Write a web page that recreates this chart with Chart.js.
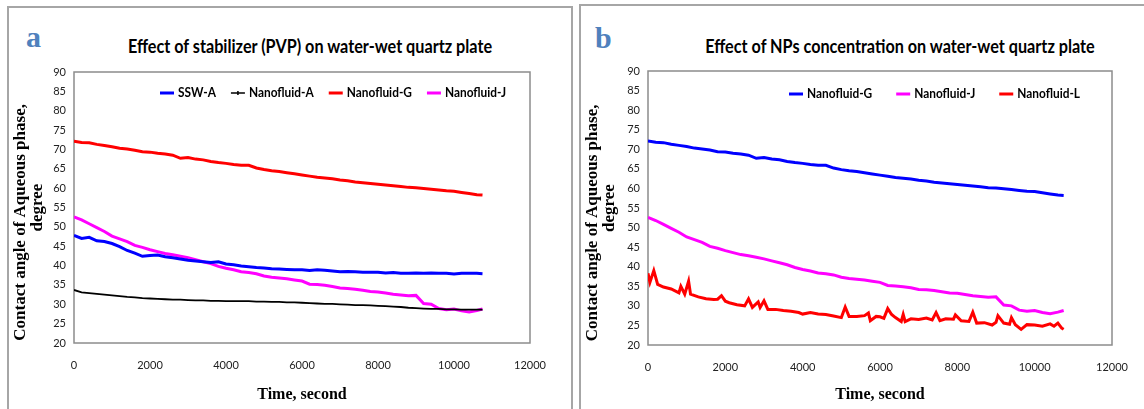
<!DOCTYPE html>
<html>
<head>
<meta charset="utf-8">
<script src="https://cdn.jsdelivr.net/npm/chart.js@4.4.1/dist/chart.umd.min.js"></script>
<style>
  body { margin: 0; background: #fff; width: 1144px; height: 409px; overflow: hidden; position: relative; }
  .frame { position: absolute; border: 2px solid #a6a6a6; box-sizing: border-box; }
  .wrap { position: absolute; top: 0; height: 409px; }
  .letter { position: absolute; font: bold 30px "Liberation Serif", serif; color: #4f81bd; line-height: 1; }
  .title { position: absolute; font: bold 18px Lato, sans-serif; color: #000; white-space: nowrap; transform: translate(-50%, -50%) scaleX(0.9); }
</style>
</head>
<body>
<div class="frame" style="left:7px; top:6px; width:566px; height:420px;"></div>
<div class="frame" style="left:579px; top:4px; width:580px; height:420px;"></div>
<div class="letter" style="left:26px; top:22px;">a</div>
<div class="letter" style="left:595px; top:23px;">b</div>
<div class="title" style="left:310px; top:46px;">Effect of stabilizer (PVP) on water-wet quartz plate</div>
<div class="title" style="left:900px; top:46px;">Effect of NPs concentration on water-wet quartz plate</div>
<div class="wrap" style="left:0; width:572px;"><canvas id="chartA"></canvas></div>
<div class="wrap" style="left:576px; width:568px;"><canvas id="chartB"></canvas></div>
<script>
// time axis, seconds
const times = [0, 200, 400, 600, 800, 1000, 1200, 1400, 1600, 1800, 2000, 2200, 2400, 2600, 2800,
  3000, 3200, 3400, 3600, 3800, 4000, 4200, 4400, 4600, 4800, 5000, 5200, 5400, 5600, 5800,
  6000, 6200, 6400, 6600, 6800, 7000, 7200, 7400, 7600, 7800, 8000, 8200, 8400, 8600, 8800,
  9000, 9200, 9400, 9600, 9800, 10000, 10200, 10400, 10600, 10750];

const sswA = [47.8, 47.0, 47.3, 46.4, 46.2, 45.7, 44.9, 43.9, 43.2, 42.4, 42.6, 42.7, 42.3, 42.0, 41.7,
  41.4, 41.2, 41.0, 40.8, 41.0, 40.4, 40.2, 39.9, 39.7, 39.5, 39.4, 39.2, 39.1, 39.0, 38.9,
  38.9, 38.7, 38.9, 38.8, 38.6, 38.4, 38.5, 38.4, 38.3, 38.3, 38.3, 38.1, 38.2, 38.0, 38.0,
  38.1, 38.0, 38.1, 38.0, 38.0, 37.8, 38.0, 38.0, 38.0, 37.9];

const nanoA = [33.7, 33.1, 32.9, 32.7, 32.5, 32.3, 32.1, 31.9, 31.8, 31.6, 31.5, 31.4, 31.3, 31.2, 31.2,
  31.1, 31.0, 31.0, 30.9, 30.9, 30.8, 30.8, 30.8, 30.8, 30.7, 30.7, 30.6, 30.6, 30.5, 30.5,
  30.4, 30.3, 30.2, 30.1, 30.1, 30.0, 29.9, 29.8, 29.8, 29.7, 29.6, 29.5, 29.4, 29.3, 29.1,
  29.0, 28.9, 28.8, 28.8, 28.7, 28.7, 28.6, 28.6, 28.6, 28.6];

const nanoG = [72.1, 71.8, 71.7, 71.3, 71.0, 70.7, 70.3, 70.1, 69.8, 69.4, 69.3, 69.0, 68.8, 68.5, 67.7,
  67.9, 67.5, 67.3, 66.9, 66.6, 66.4, 66.1, 65.9, 65.9, 65.2, 64.8, 64.5, 64.3, 64.0, 63.7,
  63.4, 63.1, 62.8, 62.6, 62.4, 62.1, 61.9, 61.6, 61.4, 61.2, 61.0, 60.8, 60.6, 60.4, 60.2,
  60.1, 59.9, 59.7, 59.5, 59.3, 59.2, 58.9, 58.6, 58.3, 58.2];

const nanoJ = [52.6, 51.8, 50.8, 49.8, 48.8, 47.6, 46.9, 46.2, 45.2, 44.7, 44.1, 43.6, 43.1, 42.8, 42.4,
  42.0, 41.5, 41.0, 40.5, 39.8, 39.3, 38.9, 38.4, 38.2, 37.9, 37.3, 37.0, 36.8, 36.6, 36.3,
  36.0, 35.2, 35.1, 34.9, 34.6, 34.2, 34.1, 33.9, 33.6, 33.3, 33.2, 32.9, 32.6, 32.4, 32.2,
  32.3, 30.2, 30.0, 28.9, 28.6, 28.8, 28.3, 28.0, 28.4, 28.8];

// Nanofluid-L is spiky, so it has its own time points
const timesL = [0, 50, 150, 250, 400, 600, 800, 850, 950, 1050, 1100, 1300, 1500, 1700, 1800, 1900,
  2000, 2100, 2300, 2500, 2600, 2700, 2850, 2900, 3000, 3100, 3300, 3500, 3700, 3900, 4000,
  4200, 4400, 4600, 4800, 5000, 5100, 5200, 5400, 5600, 5700, 5750, 5900, 6000, 6100, 6200,
  6300, 6400, 6550, 6600, 6650, 6800, 7000, 7200, 7350, 7450, 7550, 7700, 7900, 7950, 8100,
  8300, 8400, 8500, 8700, 8900, 9000, 9050, 9200, 9350, 9400, 9500, 9650, 9800, 10000, 10200,
  10400, 10500, 10600, 10700, 10750];
const nanoL = [38.3, 36.0, 39.0, 35.5, 34.8, 34.3, 33.3, 35.0, 33.0, 36.3, 33.0, 32.3, 31.8, 31.6, 31.7, 32.6,
  31.2, 30.8, 30.3, 30.0, 31.8, 29.6, 31.0, 29.6, 31.3, 29.1, 29.1, 28.8, 28.6, 28.3, 27.9,
  28.3, 27.9, 27.8, 27.4, 27.0, 29.7, 27.3, 27.3, 27.5, 28.2, 26.2, 27.3, 27.2, 26.8, 29.3,
  27.8, 27.0, 26.0, 27.8, 26.0, 26.7, 26.5, 26.9, 26.4, 28.3, 26.2, 26.7, 26.6, 27.7, 26.2,
  26.0, 28.4, 25.6, 25.7, 25.1, 25.8, 27.5, 25.6, 25.3, 27.0, 25.2, 24.0, 25.2, 25.1, 24.8,
  25.4, 24.8, 25.6, 24.3, 24.0];

const yTicks = { min: 20, max: 90, step: 5 };
const xTicks = { min: 0, max: 12000, step: 2000 };

const pts = (xs, ys) => xs.map((x, i) => ({ x: x, y: ys[i] }));

const line = (label, color, xs, ys, width) => ({
    label: label,
    data: pts(xs, ys),
    borderColor: color,
    backgroundColor: color,
    borderWidth: width || 3,
    pointRadius: 0,
    tension: 0
});

// legend drawn inside the plot box, in one row
const insideLegend = {
    id: 'insideLegend',
    afterDraw(chart, args, opts) {
        const { ctx, chartArea } = chart;
        const sx = 0.88;
        ctx.save();
        ctx.font = 'bold 13.5px Lato';
        ctx.textBaseline = 'middle';
        let x = opts.x;
        const y = chartArea.top + opts.dy;
        chart.data.datasets.forEach(ds => {
            const thin = ds.borderWidth < 2;
            ctx.strokeStyle = ds.borderColor;
            ctx.lineWidth = thin ? 1.5 : 3;
            ctx.beginPath();
            ctx.moveTo(x, y);
            ctx.lineTo(x + 14, y);
            if (thin) {
                ctx.moveTo(x + 7, y - 2);
                ctx.lineTo(x + 7, y + 2);
            }
            ctx.stroke();
            ctx.fillStyle = '#000';
            ctx.save();
            ctx.translate(x + 18, y);
            ctx.scale(sx, 1);
            ctx.fillText(ds.label, 0, 0);
            ctx.restore();
            x += 18 + ctx.measureText(ds.label).width * sx + opts.gap;
        });
        ctx.restore();
    }
};

// grey box round the plot area
const plotBox = {
    id: 'plotBox',
    beforeDatasetsDraw(chart) {
        const { ctx, chartArea: a } = chart;
        ctx.save();
        ctx.strokeStyle = '#8c8c8c';
        ctx.lineWidth = 1.5;
        ctx.strokeRect(a.left, a.top, a.right - a.left, a.bottom - a.top);
        ctx.restore();
    }
};

// trailing no-break spaces push the first title line down toward the x axis, as in the original
const yTitle = ['Contact angle of Aqueous phase,' + '\u00a0'.repeat(7), 'degree'];

const makeChart = (id, datasets, cfg) => {
    const ctx = document.getElementById(id).getContext('2d');
    return new Chart(ctx, {
        type: 'line',
        data: { datasets: datasets },
        options: {
            responsive: true,
            maintainAspectRatio: false,
            animation: false,
            layout: { padding: { top: cfg.top, right: cfg.right, bottom: 0, left: 0 } },
            scales: {
                x: {
                    type: 'linear',
                    min: xTicks.min, max: xTicks.max,
                    grid: { display: false, drawTicks: false },
                    border: { display: false },
                    ticks: { stepSize: xTicks.step, padding: 16, color: '#222', maxRotation: 0,
                        font: { family: 'Lato', size: 11 }, callback: v => String(v) },
                    title: { display: true, text: 'Time, second', color: '#000',
                        font: { family: 'Liberation Serif', size: 16, weight: 'bold' }, padding: { top: 0, bottom: 5 } },
                    afterFit: s => { s.height = 409 - cfg.bottom; }
                },
                y: {
                    min: yTicks.min, max: yTicks.max,
                    grid: { display: false, drawTicks: false },
                    border: { display: false },
                    ticks: { stepSize: yTicks.step, padding: 8, color: '#222',
                        font: { family: 'Lato', size: 11 }, callback: v => String(v) },
                    title: { display: true, text: yTitle, color: '#000',
                        font: { family: 'Liberation Serif', size: 17, weight: 'bold', lineHeight: 0.95 }, padding: { top: cfg.titlePad, bottom: 0 } },
                    afterFit: s => { s.width = cfg.left; }
                }
            },
            plugins: {
                legend: { display: false },
                tooltip: { enabled: false },
                insideLegend: { x: cfg.legendX, dy: cfg.legendDy, gap: cfg.gap }
            }
        },
        plugins: [plotBox, insideLegend]
    });
};

document.addEventListener('DOMContentLoaded', function () {
    makeChart('chartA', [
        line('SSW-A', '#0000ff', times, sswA),
        line('Nanofluid-A', '#000000', times, nanoA, 1.8),
        line('Nanofluid-G', '#ff0000', times, nanoG),
        line('Nanofluid-J', '#ff00ff', times, nanoJ)
    ], { top: 72, bottom: 343, left: 74, right: 42, titlePad: 13, legendX: 160, legendDy: 21, gap: 15 });

    makeChart('chartB', [
        line('Nanofluid-G', '#0000ff', times, nanoG),
        line('Nanofluid-J', '#ff00ff', times, nanoJ),
        line('Nanofluid-L', '#ff0000', timesL, nanoL)
    ], { top: 71, bottom: 345, left: 72, right: 32, titlePad: 9, legendX: 213, legendDy: 23, gap: 24 });
});
</script>
</body>
</html>
